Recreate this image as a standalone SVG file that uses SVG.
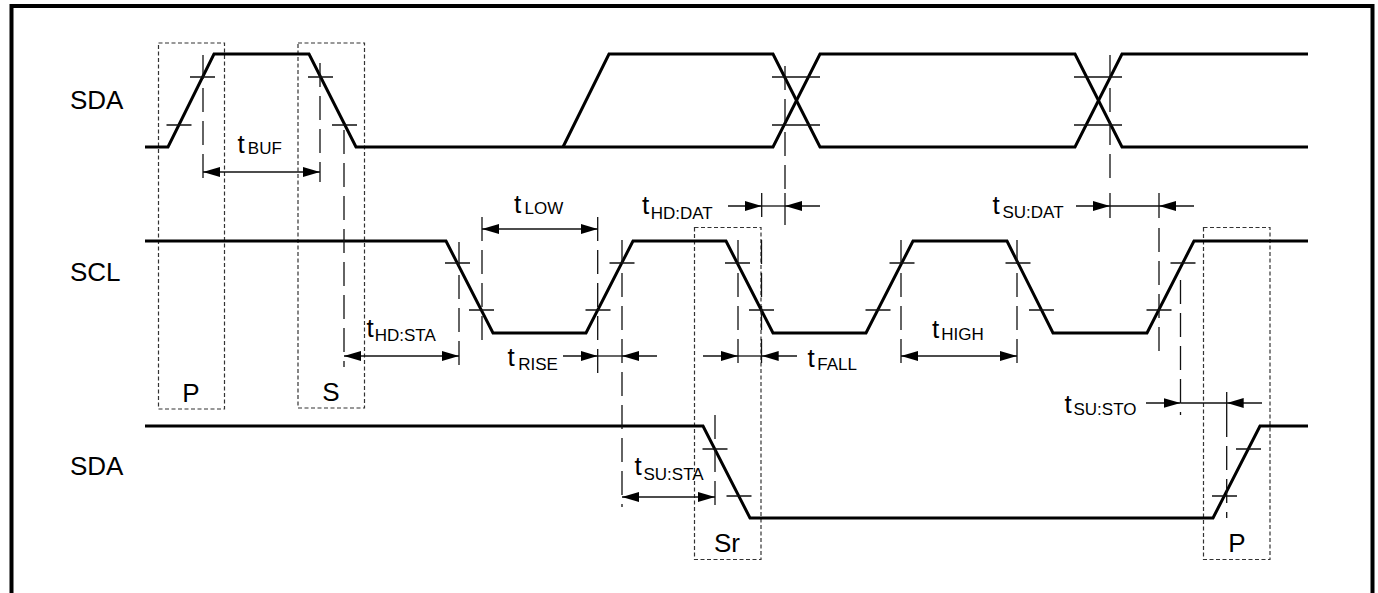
<svg xmlns="http://www.w3.org/2000/svg" width="1378" height="593" viewBox="0 0 1378 593">
<style>
.sig{fill:none;stroke:#000;stroke-width:3;stroke-linejoin:miter}
.tick{fill:none;stroke:#111;stroke-width:1.3}
.guide{fill:none;stroke:#111;stroke-width:1.3;stroke-dasharray:24 9}
.solid{fill:none;stroke:#111;stroke-width:1.3}
.box{fill:none;stroke:#333;stroke-width:1.2;stroke-dasharray:4 2.5}
.dim{fill:none;stroke:#111;stroke-width:1.3}
.dbl{marker-start:url(#ah);marker-end:url(#ah)}
.one{marker-end:url(#ah)}
text{font-family:"Liberation Sans",Arial,sans-serif;fill:#000}
.lbl{font-size:26px}
.t{font-size:26px}
.sub{font-size:17px}
</style>
<defs>
<marker id="ah" markerUnits="userSpaceOnUse" markerWidth="17" markerHeight="10" refX="17" refY="5" orient="auto-start-reverse">
<path d="M0,0 L17,5 L0,10 z" fill="#000"/>
</marker>
</defs>
<rect id="frame" x="11.5" y="6" width="1361" height="700" fill="none" stroke="#000" stroke-width="4"/>

<g id="boxes">
<g id="box-P1"><rect class="box" x="158.5" y="43" width="66" height="366"/><text class="lbl" x="191" y="402" text-anchor="middle">P</text></g>
<g id="box-S"><rect class="box" x="298" y="43" width="66.5" height="365"/><text class="lbl" x="331" y="401" text-anchor="middle">S</text></g>
<g id="box-Sr"><rect class="box" x="694.5" y="227.5" width="66.5" height="332"/><text class="lbl" x="727" y="552" text-anchor="middle">Sr</text></g>
<g id="box-P2"><rect class="box" x="1203.5" y="227.5" width="66.5" height="332"/><text class="lbl" x="1237" y="552" text-anchor="middle">P</text></g>
</g>

<g id="sda-top">
<text class="lbl" x="70" y="109">SDA</text>
<path class="sig" d="M145,147 H168 L214,54 H309 L356,147 H773 L820,54 H1075 L1122,147 H1308"/>
<path class="sig" d="M563,147 L609,54 H773 L820,147 H1075 L1122,54 H1308"/>
<path class="tick" d="M166.5,125 h25 M190,77 h25 M308,77 h25 M332,125 h25 M772,77 H820 M772,125 H820 M1074,77 H1122 M1074,125 H1122"/>
</g>

<g id="scl">
<text class="lbl" x="70" y="281">SCL</text>
<path class="sig" d="M145,241 H446 L493,333 H586 L633,241 H726 L773,333 H866 L913,241 H1007 L1053,333 H1147 L1194,241 H1308"/>
<path class="tick" d="M445,263 h25 M469,310 h25 M585.5,310 h25 M609.5,263 h25 M725,263 h25 M749,310 h25 M865.5,310 h25 M889.5,263 h25 M1005.5,263 h25 M1029,310 h25 M1146.5,310 h25 M1170.5,263 h25"/>
</g>

<g id="sda-bottom">
<text class="lbl" x="70" y="475">SDA</text>
<path class="sig" d="M145,426 H703 L750,518 H1213 L1260,426 H1308"/>
<path class="tick" d="M702.5,449 h25 M726.5,496 h25 M1212,496 h25 M1236,449 h25"/>
</g>

<g id="connectors">
<g id="guides">
<path class="guide" d="M203,55 V183 M320,63 V182 M344,130 V367 M785,66 V190 M1110,55 V182 M459,242 V367 M482,217 V345 M597.7,217 V378 M622,240 V507 M738,240 V367 M761.5,240 V367 M901,240 V367 M1017,240 V367 M1159,228 V357 M1180.5,280 V415 M1226.7,413 V518 M715,415 V507"/>
<path class="solid" d="M761.7,193 V217 M785,193 V225 M1110,193 V218 M1159,193 V218 M1226.7,392 V413"/>
</g>
<g id="dims">
<path class="dim dbl" d="M203,172 H320"/>
<path class="dim dbl" d="M482,229 H597.7"/>
<path class="dim dbl" d="M344,356 H459"/>
<path class="dim dbl" d="M901,356 H1017"/>
<path class="dim dbl" d="M622,497 H715"/>
<path class="dim one" d="M728,206 H761.7"/><path class="dim one" d="M820,206 H785"/><path class="dim" d="M761.7,206 H785"/>
<path class="dim one" d="M1076,206 H1110"/><path class="dim one" d="M1194,206 H1159"/><path class="dim" d="M1110,206 H1159"/>
<path class="dim one" d="M563,356 H597.7"/><path class="dim one" d="M657,356 H622"/><path class="dim" d="M597.7,356 H622"/>
<path class="dim one" d="M703,356 H738"/><path class="dim one" d="M797,356 H761.7"/><path class="dim" d="M738,356 H761.7"/>
<path class="dim one" d="M1146,403 H1180.5"/><path class="dim one" d="M1262,403 H1226.7"/><path class="dim" d="M1180.5,403 H1226.7"/>
</g>
</g>

<g id="labels">
<text><tspan class="t" x="237.5" y="153">t</tspan><tspan class="sub" x="247.8" y="154">BUF</tspan></text>
<text><tspan class="t" x="366.5" y="337">t</tspan><tspan class="sub" x="374.7" y="341">HD:STA</tspan></text>
<text><tspan class="t" x="514" y="213">t</tspan><tspan class="sub" x="524.5" y="213.5">LOW</tspan></text>
<text><tspan class="t" x="642" y="214">t</tspan><tspan class="sub" x="650.7" y="219">HD:DAT</tspan></text>
<text><tspan class="t" x="507.5" y="366">t</tspan><tspan class="sub" x="518.2" y="370">RISE</tspan></text>
<text><tspan class="t" x="807.5" y="367">t</tspan><tspan class="sub" x="817.2" y="369.5">FALL</tspan></text>
<text><tspan class="t" x="932" y="337.5">t</tspan><tspan class="sub" x="941.2" y="340">HIGH</tspan></text>
<text><tspan class="t" x="992.5" y="213.5">t</tspan><tspan class="sub" x="1002.5" y="218">SU:DAT</tspan></text>
<text><tspan class="t" x="1064.5" y="413">t</tspan><tspan class="sub" x="1073.5" y="415">SU:STO</tspan></text>
<text><tspan class="t" x="634.5" y="475">t</tspan><tspan class="sub" x="643.5" y="480">SU:STA</tspan></text>
</g>
</svg>
